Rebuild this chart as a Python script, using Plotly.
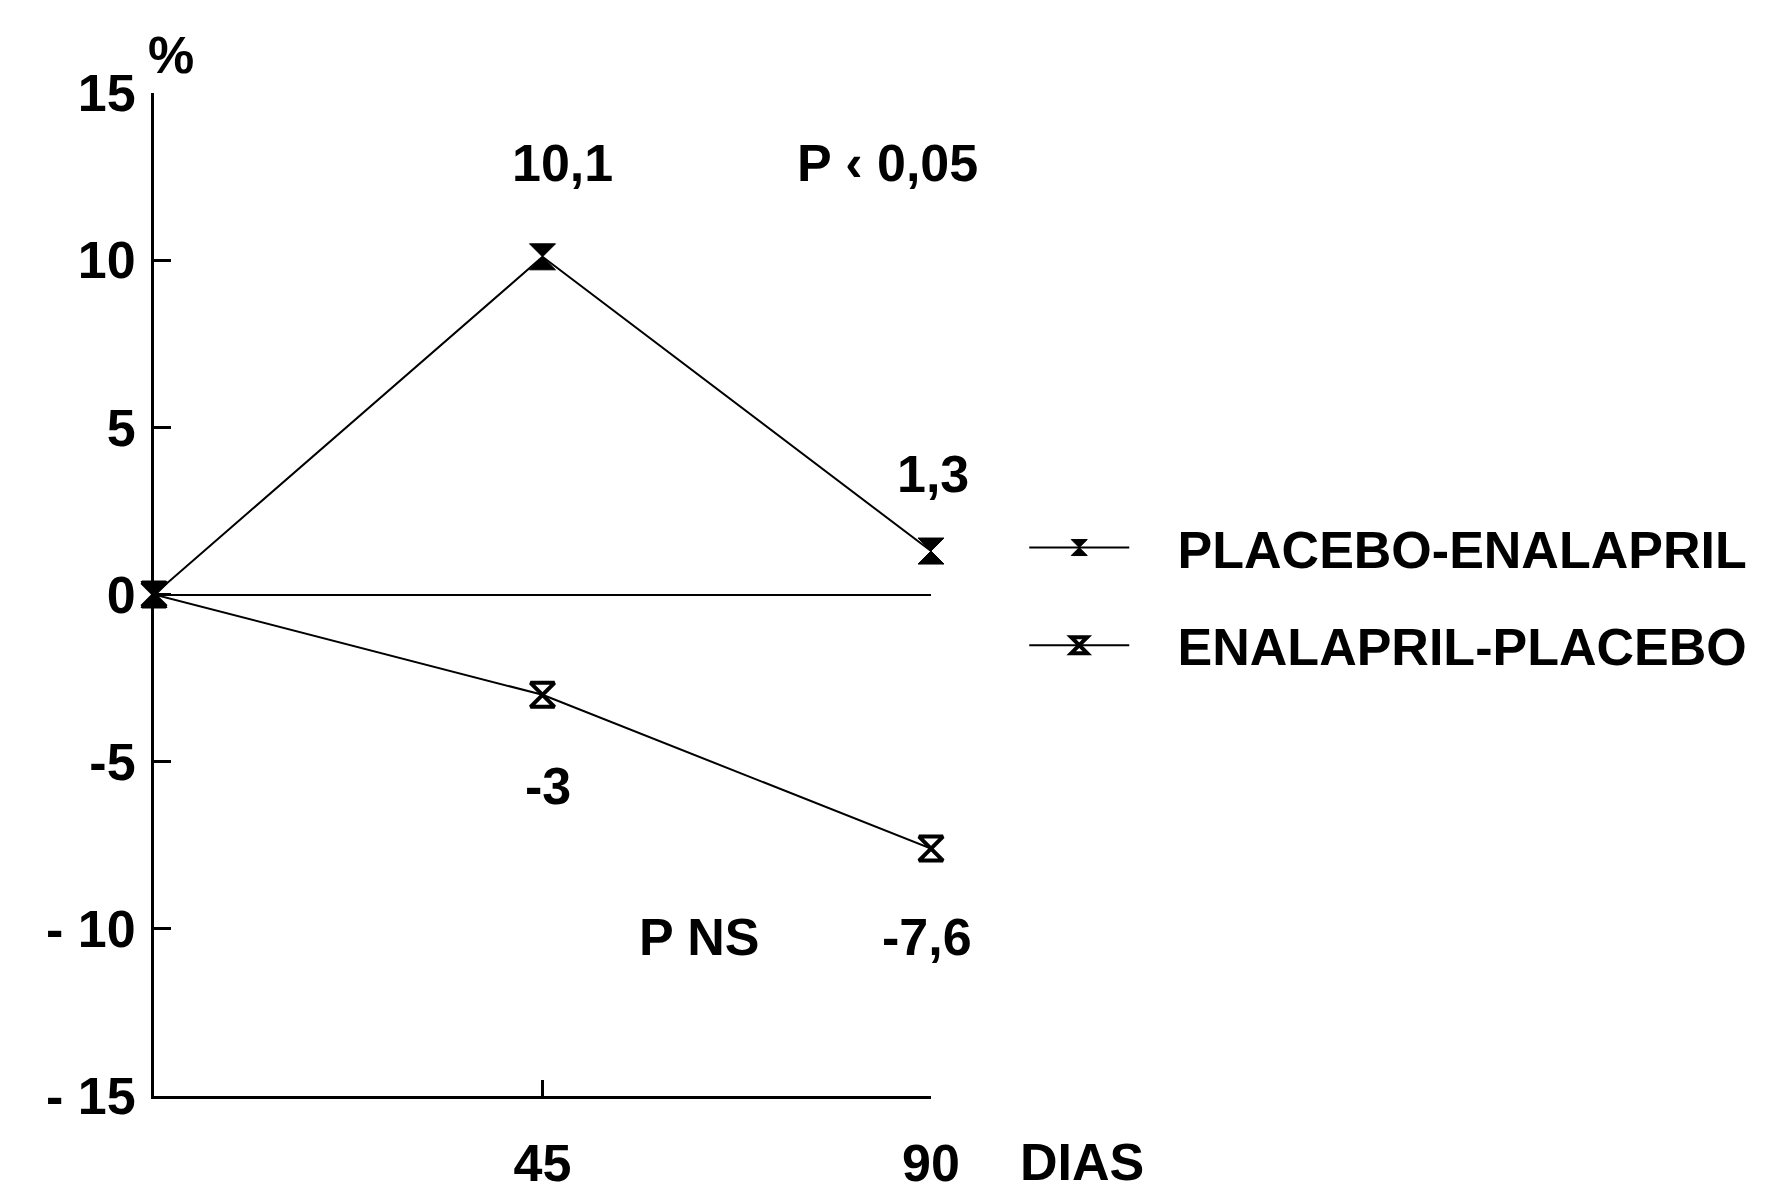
import plotly.graph_objects as go

days = [0, 45, 90]
placebo_enalapril = [0, 10.1, 1.3]
enalapril_placebo = [0, -3, -7.6]
series_names = ["PLACEBO-ENALAPRIL", "ENALAPRIL-PLACEBO"]
y_tickvals = [15, 10, 5, 0, -5, -10, -15]
y_ticktext = ["15", "10", "5", "0", "-5", "- 10", "- 15"]
x_tickvals = [45, 90]
x_ticktext = ["45", "90"]

FONT = dict(family="Liberation Sans, Arial, sans-serif", size=52, color="black", weight="bold")
GAP = "\u00a0\u00a0\u00a0"

fig = go.Figure()
fig.add_trace(go.Scatter(
    x=days, y=placebo_enalapril, mode="lines+markers", name=GAP + series_names[0],
    line=dict(color="black", width=2),
    marker=dict(symbol="hourglass", size=26, color="black", line=dict(color="black", width=1)),
    cliponaxis=False, legendgroup="a",
))
fig.add_trace(go.Scatter(
    x=days, y=enalapril_placebo, mode="lines+markers", name=GAP + series_names[1],
    line=dict(color="black", width=2),
    marker=dict(symbol="hourglass-open", size=24, color="black", line=dict(color="black", width=4)),
    cliponaxis=False, legendgroup="b",
))

ann = [
    ("10,1", 47.3, 12.9, 0),
    ("P ‹ 0,05", 85.0, 12.9, 0),
    ("1,3", 90.0, 3.6, 2),
    ("-3", 45.6, -5.73, 0),
    ("P NS", 63.1, -10.24, 0),
    ("-7,6", 89.5, -10.24, 0),
]
for t, x, y, xs in ann:
    fig.add_annotation(text=t, x=x, y=y, xref="x", yref="y", showarrow=False, font=FONT,
                       xanchor="center", yanchor="middle", xshift=xs)
fig.add_annotation(text="%", x=0.022, y=1.038, xref="paper", yref="paper",
                   showarrow=False, font=FONT, xanchor="center", yanchor="middle")
fig.add_annotation(text="DIAS", x=1.194, y=-0.066, xref="paper", yref="paper",
                   showarrow=False, font=FONT, xanchor="center", yanchor="middle")

fig.update_layout(
    width=1783, height=1186,
    paper_bgcolor="white", plot_bgcolor="white",
    margin=dict(l=146, r=860, t=85, b=98, autoexpand=False),
    font=FONT,
    showlegend=True,
    legend=dict(x=1.12, y=0.587, xanchor="left", yanchor="top", font=FONT,
                itemwidth=100, tracegroupgap=27, bgcolor="rgba(0,0,0,0)"),
    xaxis=dict(range=[0, 90], tickvals=x_tickvals, ticktext=x_ticktext, automargin=False,
               showline=True, linecolor="black", linewidth=3, showgrid=False, zeroline=False,
               ticks="inside", ticklen=16, tickwidth=3, tickcolor="black",
               ticklabelstandoff=20, tickfont=FONT),
    yaxis=dict(range=[-15, 15], tickvals=y_tickvals, ticktext=y_ticktext, automargin=False,
               showline=True, linecolor="black", linewidth=3, showgrid=False,
               zeroline=True, zerolinecolor="black", zerolinewidth=2,
               ticks="inside", ticklen=17, tickwidth=3, tickcolor="black",
               ticklabelstandoff=5, tickfont=FONT),
)

fig.write_html("out.html")
